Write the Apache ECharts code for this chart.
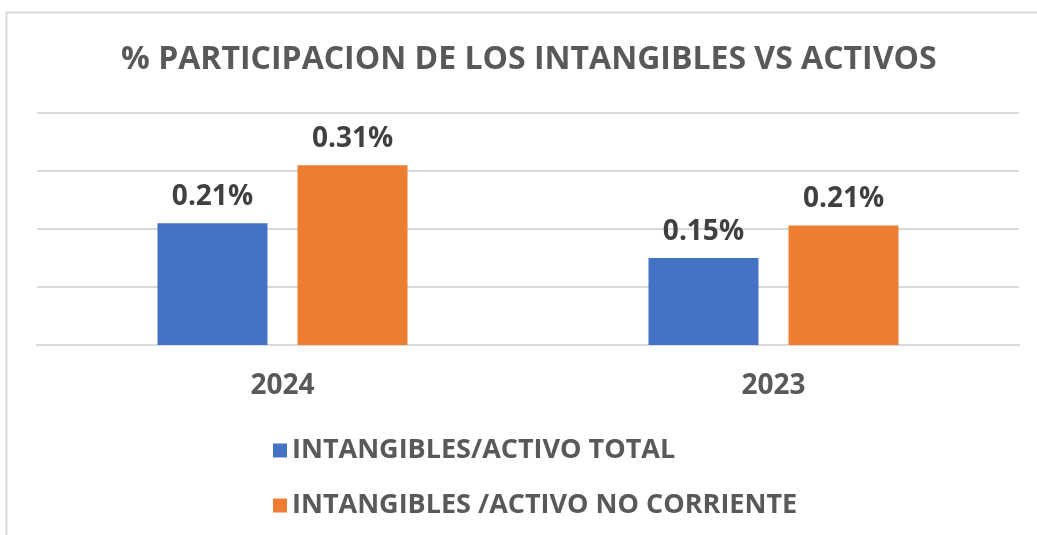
<!DOCTYPE html>
<html>
<head>
<meta charset="utf-8">
<script src="https://cdn.jsdelivr.net/npm/echarts@6/dist/echarts.min.js"></script>
<style>
  html, body { margin: 0; padding: 0; background: #fff; }
  #chart { width: 1037px; height: 535px; }
</style>
</head>
<body>
<div id="chart"></div>
<script>
const categories = ['2024', '2023'];
const totalShare = [0.21, 0.15];       // INTANGIBLES/ACTIVO TOTAL (%)
const nonCurrentShare = [0.31, 0.206]; // INTANGIBLES /ACTIVO NO CORRIENTE (%)
const seriesNames = ['INTANGIBLES/ACTIVO TOTAL', 'INTANGIBLES /ACTIVO NO CORRIENTE'];

const chart = echarts.init(document.getElementById('chart'));
const font = '"Open Sans", sans-serif';

const labelStyle = {
  show: true,
  position: 'top',
  distance: 12,
  fontFamily: font,
  fontWeight: 'bold',
  fontSize: 28,
  color: '#404040',
  formatter: p => p.value.toFixed(2) + '%'
};

chart.setOption({
  animation: false,
  textStyle: { fontFamily: font },
  title: {
    text: '% PARTICIPACION DE LOS INTANGIBLES VS ACTIVOS',
    left: 116,
    top: 39,
    textStyle: { fontFamily: font, fontWeight: 'bold', fontSize: 32, color: '#595959' }
  },
  graphic: [{
    type: 'rect',
    shape: { x: 6.5, y: 12.5, width: 1100, height: 600 },
    style: { fill: 'none', stroke: '#d9d9d9', lineWidth: 2 },
    silent: true
  }],
  legend: {
    orient: 'vertical',
    left: 268,
    top: 432,
    itemWidth: 14,
    itemHeight: 14,
    itemGap: 28,
    icon: 'rect',
    textStyle: { fontFamily: font, fontWeight: 'bold', fontSize: 27, color: '#595959' },
    data: seriesNames
  },
  grid: { left: 37, right: 18, top: 113, bottom: 190 },
  xAxis: {
    type: 'category',
    data: categories,
    axisTick: { show: false },
    axisLine: { lineStyle: { color: '#d9d9d9', width: 2 } },
    axisLabel: { fontFamily: font, fontWeight: 'bold', fontSize: 28, color: '#595959', margin: 27 }
  },
  yAxis: {
    type: 'value',
    min: 0,
    max: 0.4,
    interval: 0.1,
    axisLabel: { show: false },
    axisLine: { show: false },
    axisTick: { show: false },
    splitLine: { lineStyle: { color: '#d9d9d9', width: 2 } }
  },
  series: [
    {
      name: seriesNames[0],
      type: 'bar',
      data: totalShare,
      barWidth: 110,
      barGap: '27.3%',
      itemStyle: { color: '#4472C4' },
      label: labelStyle
    },
    {
      name: seriesNames[1],
      type: 'bar',
      data: nonCurrentShare,
      barWidth: 110,
      itemStyle: { color: '#ED7D31' },
      label: labelStyle
    }
  ]
});
</script>
</body>
</html>
